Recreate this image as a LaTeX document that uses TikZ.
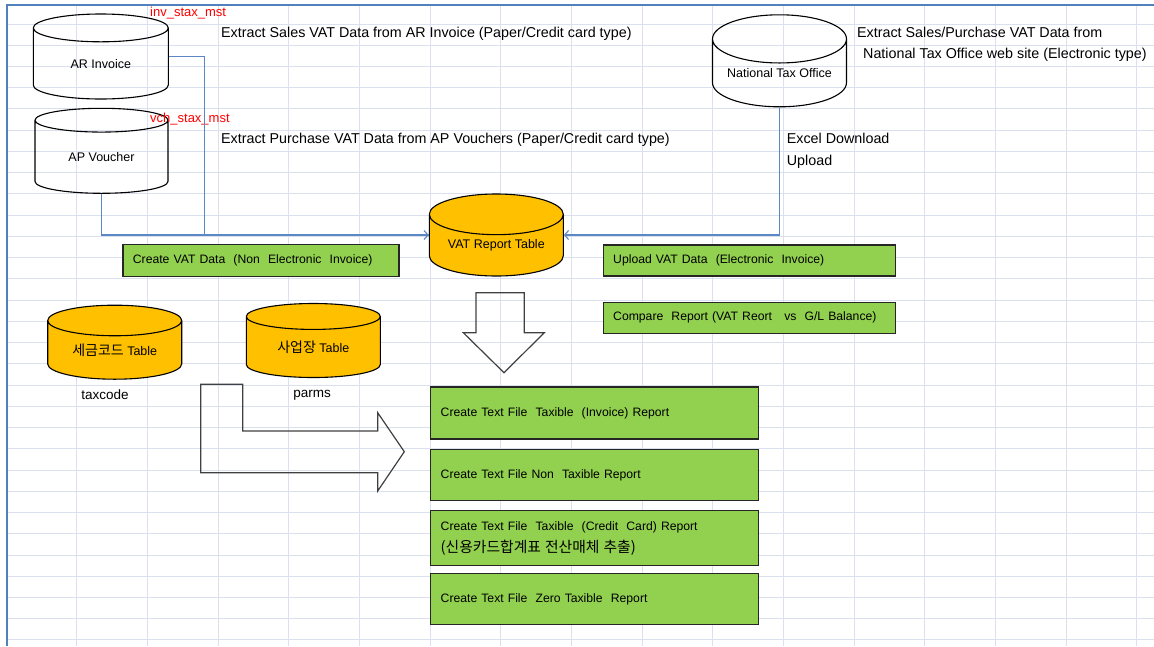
\documentclass[tikz,border=0pt]{standalone}
\usepackage{fontspec}
\setmainfont{Liberation Sans}
\newfontfamily\kr{Noto Sans CJK KR}
\usetikzlibrary{positioning, shapes.geometric, arrows.meta}

\definecolor{gridline}{RGB}{218,224,238}
\definecolor{frameblue}{RGB}{79,129,189}
\definecolor{flowblue}{RGB}{91,135,197}
\definecolor{tblgold}{RGB}{255,192,0}
\definecolor{taskgreen}{RGB}{146,208,80}

\begin{document}
\begin{tikzpicture}[
    x=1pt, y=-1pt,
    db/.style={cylinder, shape border rotate=90, anchor=shape center, draw=black, line width=1.1pt,
               minimum width=134pt, inner sep=0pt, font=\fontsize{12.5}{14}\selectfont},
    tbl/.style={db, fill=tblgold},
    task/.style={draw=black!85, line width=1.2pt, fill=taskgreen, align=left,
                 inner xsep=10pt, inner ysep=0pt, font=\fontsize{12.2}{22}\selectfont},
    report/.style={task, text width=308pt, minimum height=51pt},
    note/.style={anchor=west, inner sep=0pt, align=left, font=\fontsize{14.3}{21.2}\selectfont},
    tag/.style={anchor=west, inner sep=0pt, text=red, font=\fontsize{13}{15}\selectfont},
    under/.style={inner sep=0pt, font=\fontsize{13.5}{15}\selectfont},
    flow/.style={draw=flowblue, line width=1.1pt},
    tip/.style={-{Straight Barb[length=4pt, width=9pt]}},
    blockarr/.style={draw=black!75, line width=1.2pt, line join=miter},
  ]
  \useasboundingbox (0,0) rectangle (1154,646);
  % sheet grid
  \foreach \i in {0,...,15}
    \draw[gridline, line width=1pt] ({76.7+70.67*\i},5) -- ({76.7+70.67*\i},646);
  \foreach \j in {0,...,29}
    \draw[gridline, line width=1pt] (7,{24+21.24*\j}) -- (1154,{24+21.24*\j});
  \draw[frameblue, line width=1.6pt] (7,646) -- (7,5) -- (1154,5);

  % source tables
  \node[db, aspect=0.46, minimum height=85pt, minimum width=135pt] (ari) at (100.8,56.5) {AR Invoice};
  \node[db, aspect=0.36, minimum height=85pt, minimum width=133pt] (apv) at (101.5,150.8) {AP Voucher};
  \node[db, aspect=0.46, minimum height=92pt] (nto) at (779.5,60.8) {National Tax Office};
  \node[tag] (invtag) at (150,13) {inv\_stax\_mst};
  \node[tag] (vchtag) at (150,119) {vch\_stax\_mst};

  % notes
  \node[note] (arnote) at (221,34) {Extract Sales VAT Data from AR Invoice (Paper/Credit card type)};
  \node[note] (apnote) at (221,140) {Extract Purchase VAT Data from AP Vouchers (Paper/Credit card type)};
  \node[note] (ntonote) at (857,44.6) {Extract Sales/Purchase VAT Data from\\\hspace*{6pt}National Tax Office web site (Electronic type)};
  \node[note] (xlnote) at (786.7,150.8) {Excel Download\\Upload};

  % VAT tables
  \node[tbl, aspect=0.42, minimum height=82pt] (vat) at (496.3,235) {VAT Report Table};
  \node[tbl, aspect=0.36, minimum height=74pt] (taxc) at (114.7,342.2) {{\kr\fontsize{14}{15}\selectfont 세금코드} Table};
  \node[tbl, aspect=0.36, minimum height=74pt] (parm) at (313.3,340.5) {{\kr\fontsize{14}{15}\selectfont 사업장} Table};
  \node[under] (taxl) at (105,395) {taxcode};
  \node[under] (parml) at (312,395) {parms};

  % tasks
  \node[task, text width=256pt, minimum height=32pt] (nonel) at (260.9,260.2) {Create VAT Data~ (Non~ Electronic~ Invoice)};
  \node[task, text width=272pt, minimum height=31pt] (upl) at (749.2,260.5) {Upload VAT Data~ (Electronic~ Invoice)};
  \node[task, text width=272pt, minimum height=31pt, below=25pt of upl] (cmp) {Compare~ Report (VAT Reort~~ vs~ G/L Balance)};

  % text file reports
  \node[report, minimum height=52pt] (r1) at (594.7,412.9) {Create Text File~ Taxible~ (Invoice) Report};
  \node[report, below=9.5pt of r1] (r2) {Create Text File Non~ Taxible Report};
  \node[report, below=9pt of r2, minimum height=55pt] (r3) {Create Text File~ Taxible~ (Credit~ Card) Report\\{\kr\fontsize{14.8}{15}\selectfont (신용카드합계표 전산매체 추출)}};
  \node[report, below=6.7pt of r3] (r4) {Create Text File~ Zero Taxible~ Report};

  % flows
  \draw[flow] (apv.south) |- (vat.west |- vat.shape center);
  \draw[flow, tip] (ari.east |- ari.shape center) -- ++(35.5,0) |- (vat.west |- vat.shape center);
  \draw[flow, tip] (nto.south) |- (vat.east |- vat.shape center);

  % block arrows
  \draw[blockarr] (476,292.7) -- (524.3,292.7) -- (524.3,332.7) -- (544.3,332.7)
    -- (504,372.7) -- (463.3,332.7) -- (476,332.7) -- cycle;
  \draw[blockarr] (200.7,384.3) -- (242.7,384.3) -- (242.7,431) -- (377.7,431)
    -- (377.7,412.7) -- (404.3,451.7) -- (377.7,491) -- (377.7,472.7)
    -- (200.7,472.7) -- cycle;
\end{tikzpicture}
\end{document}
